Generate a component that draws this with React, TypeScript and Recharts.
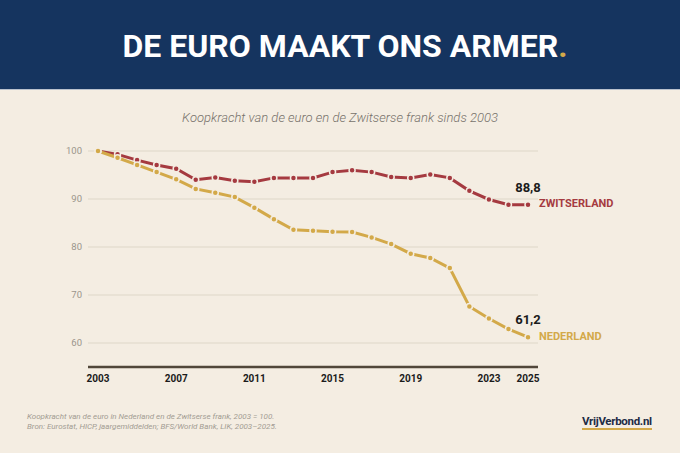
import { LineChart, Line, XAxis, YAxis, CartesianGrid, LabelList } from 'recharts';

const years = [
  2003, 2004, 2005, 2006, 2007, 2008, 2009, 2010, 2011, 2012, 2013, 2014,
  2015, 2016, 2017, 2018, 2019, 2020, 2021, 2022, 2023, 2024, 2025,
];
const zwitserland = [
  100, 99.3, 98.1, 97.1, 96.3, 94.0, 94.5, 93.8, 93.6, 94.4, 94.4, 94.4,
  95.6, 96.0, 95.6, 94.6, 94.4, 95.1, 94.4, 91.7, 89.9, 88.8, 88.8,
];
const nederland = [
  100, 98.6, 97.1, 95.6, 94.1, 92.1, 91.3, 90.4, 88.2, 85.8, 83.6, 83.4,
  83.2, 83.1, 82.0, 80.6, 78.6, 77.7, 75.6, 67.6, 65.1, 62.9, 61.2,
];
const xTicks = [2003, 2007, 2011, 2015, 2019, 2023, 2025];
const yTicks = [60, 70, 80, 90, 100];

const data = years.map((year, i) => ({ year, ch: zwitserland[i], nl: nederland[i] }));

const RED = '#a53a40';
const GOLD = '#d3a949';
const CREAM = '#f4ede2';
const NAVY = '#15345f';
const FONT = 'Roboto, sans-serif';

const endLabel = (name: string, color: string) => (props: any) => {
  const { x, y, value, index } = props;
  if (index !== data.length - 1) return null;
  return (
    <g>
      <text x={x} y={y - 13} textAnchor="middle" fontFamily={FONT} fontWeight={700} fontSize={13} fill="#1b1b1b">
        {Number(value).toFixed(1).replace('.', ',')}
      </text>
      <text x={x + 11} y={y + 2.5} fontFamily={FONT} fontWeight={700} fontSize={11} fill={color}>
        {name}
      </text>
    </g>
  );
};

export default function App() {
  return (
    <div style={{ position: 'relative', width: 680, height: 453, background: CREAM, overflow: 'hidden', fontFamily: FONT }}>
      <style>{'body{margin:0}'}</style>
      <div
        style={{
          position: 'absolute', left: 0, top: 0, width: 680, height: 89, background: NAVY,
          borderBottom: '1px solid #b9c1cd', display: 'flex', alignItems: 'center', justifyContent: 'center',
        }}
      >
        <span style={{ color: '#fff', fontWeight: 700, fontSize: 32, paddingLeft: 10, marginTop: 2 }}>
          DE EURO MAAKT ONS ARMER<span style={{ color: GOLD }}>.</span>
        </span>
      </div>
      <div
        style={{
          position: 'absolute', left: 0, top: 110, width: 680, textAlign: 'center',
          fontStyle: 'italic', fontWeight: 300, fontSize: 13, color: '#77726b',
        }}
      >
        Koopkracht van de euro en de Zwitserse frank sinds 2003
      </div>

      <div style={{ position: 'absolute', left: 0, top: 0 }}>
        <LineChart width={680} height={453} data={data} margin={{ top: 151, right: 142, bottom: 66, left: 58 }}>
          <CartesianGrid vertical={false} stroke="#e6ded1" strokeWidth={1.5} />
          <XAxis
            dataKey="year"
            type="number"
            domain={[2003, 2025]}
            ticks={xTicks}
            interval={0}
            padding={{ left: 10, right: 10 }}
            height={20}
            tickLine={false}
            tickSize={0}
            tickMargin={8}
            axisLine={{ stroke: '#51473a', strokeWidth: 2.5 }}
            tick={{ fill: '#1b1b1b', fontSize: 10, fontWeight: 700, fontFamily: FONT }}
          />
          <YAxis
            domain={[55, 100]}
            ticks={yTicks}
            width={30}
            axisLine={false}
            tickLine={false}
            tickSize={0}
            tickMargin={6}
            tick={{ fill: '#9b958b', fontSize: 9.5, fontFamily: FONT }}
          />
          <Line
            dataKey="ch"
            stroke={RED}
            strokeWidth={3}
            dot={{ r: 3, fill: RED, stroke: CREAM, strokeWidth: 1.5 }}
            isAnimationActive={false}
          >
            <LabelList dataKey="ch" content={endLabel('ZWITSERLAND', RED)} />
          </Line>
          <Line
            dataKey="nl"
            stroke={GOLD}
            strokeWidth={3}
            dot={{ r: 3, fill: GOLD, stroke: CREAM, strokeWidth: 1.5 }}
            isAnimationActive={false}
          >
            <LabelList dataKey="nl" content={endLabel('NEDERLAND', GOLD)} />
          </Line>
        </LineChart>
      </div>

      <div
        style={{
          position: 'absolute', left: 27, top: 412, fontStyle: 'italic', fontSize: 8,
          lineHeight: '10px', color: '#a29c92',
        }}
      >
        Koopkracht van de euro in Nederland en de Zwitserse frank, 2003 = 100.
        <br />
        Bron: Eurostat, HICP, jaargemiddelden; BFS/World Bank, LIK, 2003–2025.
      </div>
      <div
        style={{
          position: 'absolute', left: 582, top: 415, fontWeight: 700, fontSize: 11.5,
          letterSpacing: -0.3, color: '#1d2b45', borderBottom: `2px solid ${GOLD}`, lineHeight: '13px',
        }}
      >
        VrijVerbond.nl
      </div>
    </div>
  );
}
